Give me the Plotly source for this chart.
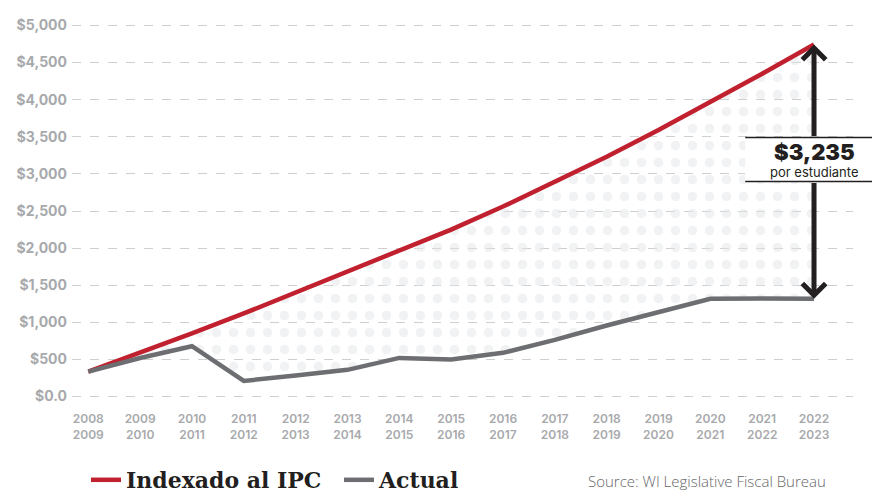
import plotly.graph_objects as go

# ---- data ----
years = [2008, 2009, 2010, 2011, 2012, 2013, 2014, 2015, 2016, 2017, 2018, 2019, 2020, 2021, 2022]
x_labels = ["2008<br>2009", "2009<br>2010", "2010<br>2011", "2011<br>2012", "2012<br>2013",
            "2013<br>2014", "2014<br>2015", "2015<br>2016", "2016<br>2017", "2017<br>2018",
            "2018<br>2019", "2019<br>2020", "2020<br>2021", "2021<br>2022", "2022<br>2023"]
indexed_cpi = [337, 590, 850, 1120, 1400, 1680, 1960, 2250, 2560, 2890, 3230, 3590, 3965, 4350, 4744]
actual = [337, 520, 678, 211, 283, 360, 521, 499, 589, 764, 957, 1137, 1317, 1320, 1317]
y_ticks = [0, 500, 1000, 1500, 2000, 2500, 3000, 3500, 4000, 4500, 5000]
y_labels = ["$0.0", "$500", "$1,000", "$1,500", "$2,000", "$2,500", "$3,000",
            "$3,500", "$4,000", "$4,500", "$5,000"]
gap_label = "$3,235"
gap_sub = "por estudiante"
box_top = 3491
box_bottom = 2898

RED = "#c1202f"
GRAY = "#6d6e71"
TICK = "#a7a9ac"

fig = go.Figure()

# fill between lines (dotted pattern)
fig.add_trace(go.Scatter(x=years, y=actual, mode="lines", line=dict(width=0),
                         showlegend=False, hoverinfo="skip"))
fig.add_trace(go.Scatter(x=years, y=indexed_cpi, mode="lines", line=dict(width=0),
                         fill="tonexty",
                         fillpattern=dict(shape=".", size=17, solidity=0.25,
                                          fgcolor="#e4e5e7", bgcolor="rgba(255,255,255,0)"),
                         showlegend=False, hoverinfo="skip"))

fig.add_trace(go.Scatter(x=years, y=indexed_cpi, mode="lines", name="Indexado al IPC",
                         line=dict(color=RED, width=4.5)))
fig.add_trace(go.Scatter(x=years, y=actual, mode="lines", name="Actual",
                         line=dict(color=GRAY, width=4.5)))

# white box behind the label + rules
fig.add_shape(type="rect", xref="paper", yref="y", x0=0.862, x1=1.03,
              y0=box_bottom, y1=box_top, fillcolor="white", line=dict(width=0), layer="above")
for yv in (box_top, box_bottom):
    fig.add_shape(type="line", xref="paper", yref="y", x0=0.862, x1=1.03,
                  y0=yv, y1=yv, line=dict(color="#231f20", width=1.5), layer="above")

# double arrow in two parts
fig.add_annotation(x=years[-1], y=indexed_cpi[-1], ax=years[-1], ay=box_top,
                   xref="x", yref="y", axref="x", ayref="y", text="", showarrow=True,
                   arrowhead=4, arrowsize=0.9, arrowwidth=5, arrowcolor="#231f20", standoff=0)
fig.add_annotation(x=years[-1], y=actual[-1], ax=years[-1], ay=box_bottom,
                   xref="x", yref="y", axref="x", ayref="y", text="", showarrow=True,
                   arrowhead=4, arrowsize=0.9, arrowwidth=5, arrowcolor="#231f20", standoff=0)

fig.add_annotation(x=years[-1], y=(box_top + box_bottom) / 2 + 95, xref="x", yref="y",
                   text=gap_label, showarrow=False,
                   font=dict(family="Inter", size=22, color="#231f20", weight=900))
fig.add_annotation(x=years[-1], y=(box_top + box_bottom) / 2 - 170, xref="x", yref="y",
                   text=gap_sub, showarrow=False,
                   font=dict(family="Inter", size=13, color="#231f20"))

fig.add_annotation(x=0.968, y=-0.1995, xref="paper", yref="paper",
                   xanchor="right", yanchor="middle",
                   text="Source: WI Legislative Fiscal Bureau", showarrow=False,
                   font=dict(family="Open Sans", size=15, color="#666666", weight=300))

fig.update_layout(
    width=872, height=492,
    margin=dict(l=72, r=19, t=18, b=88, autoexpand=False),
    paper_bgcolor="white", plot_bgcolor="white",
    showlegend=True,
    legend=dict(orientation="h", traceorder="normal",
                xref="container", x=86 / 872, xanchor="left",
                yref="container", y=1 - 480 / 492, yanchor="middle",
                font=dict(family="DejaVu Serif", size=22, color="#231f20", weight="bold"),
                itemwidth=30, entrywidth=208, entrywidthmode="pixels",
                bgcolor="rgba(0,0,0,0)"),
    xaxis=dict(range=[2007.686, 2022.752], tickvals=years, ticktext=x_labels,
               showgrid=False, zeroline=False, showline=False, ticks="", automargin=False,
               ticklabelstandoff=6,
               tickfont=dict(family="Inter", size=12, color=TICK, weight=600)),
    yaxis=dict(range=[-100, 5100], tickvals=y_ticks, ticktext=y_labels,
               showgrid=True, gridcolor="#cfcfcf", griddash="dash", gridwidth=1,
               zeroline=False, showline=False, ticks="", automargin=False,
               ticklabelstandoff=4,
               tickfont=dict(family="Inter", size=14, color=TICK, weight=700)),
)

fig.write_html("out.html", config={"displayModeBar": False},
               post_script="document.body.style.margin='0';document.body.style.overflow='hidden';")
